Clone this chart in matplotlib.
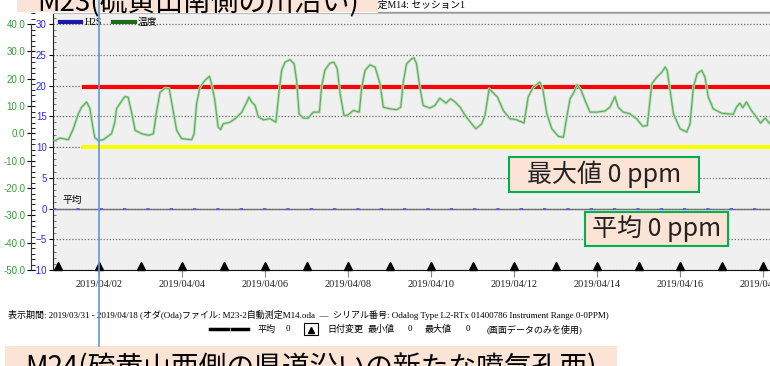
import matplotlib.pyplot as plt
from matplotlib.lines import Line2D
from matplotlib.patches import Rectangle
from matplotlib.ticker import MultipleLocator, FormatStrFormatter

# 経過日数 (2019/03/31 00:00 起点) と温度 [℃]
temp_days = [0.93, 1.05, 1.25, 1.37, 1.49, 1.57, 1.69, 1.77, 1.84, 1.89, 1.97,
             2.09, 2.29, 2.37, 2.41, 2.49, 2.61, 2.69, 2.78, 2.86, 3.02, 3.18,
             3.30, 3.38, 3.46, 3.58, 3.68, 3.76, 3.86, 3.98, 4.22, 4.28, 4.34,
             4.42, 4.54, 4.65, 4.70, 4.78, 4.86, 4.92, 4.98, 5.14, 5.27, 5.43,
             5.55, 5.60, 5.67, 5.75, 5.83, 5.95, 6.11, 6.25, 6.33, 6.39, 6.47,
             6.59, 6.69, 6.75, 6.81, 6.91, 7.03, 7.15, 7.30, 7.35, 7.43, 7.55,
             7.65, 7.73, 7.80, 7.89, 7.97, 8.12, 8.26, 8.32, 8.40, 8.52, 8.64,
             8.76, 8.84, 9.00, 9.16, 9.26, 9.32, 9.40, 9.52, 9.58, 9.64, 9.72,
             9.80, 9.96, 10.08, 10.20, 10.35, 10.46, 10.57, 10.69, 10.81, 10.97,
             11.07, 11.21, 11.29, 11.39, 11.47, 11.59, 11.73, 11.89, 12.05,
             12.23, 12.33, 12.45, 12.61, 12.68, 12.78, 12.90, 13.06, 13.18,
             13.26, 13.34, 13.42, 13.51, 13.60, 13.70, 13.82, 13.98, 14.18,
             14.30, 14.42, 14.50, 14.62, 14.78, 14.94, 15.09, 15.20, 15.31,
             15.43, 15.55, 15.63, 15.68, 15.75, 15.83, 15.99, 16.15, 16.23,
             16.31, 16.40, 16.51, 16.59, 16.67, 16.79, 16.99, 17.27, 17.35,
             17.43, 17.50, 17.59, 17.71, 17.83, 17.93, 18.04, 18.16, 18.30]
temp_c = [-2.6, -1.7, -2.3, 1.7, 7.2, 9.6, 11.5, 9.1, 2.3, -1.6, -2.6,
          -2.3, -0.1, 4.1, 9.0, 10.9, 13.5, 13.3, 7.2, 1.1, -0.1, -0.7,
          -0.1, 8.4, 15.1, 16.6, 16.4, 9.6, 1.1, -1.9, -2.3, -0.1, 10.9,
          16.9, 19.4, 20.9, 18.2, 12.1, 2.3, 1.4, 3.5, 4.1, 5.4, 7.8,
          11.5, 13.3, 11.5, 10.2, 6.0, 5.0, 5.4, 4.1, 15.7, 23.1, 26.1,
          27.0, 25.5, 19.4, 7.2, 5.6, 5.6, 7.8, 7.8, 16.9, 23.1, 25.7,
          26.1, 23.7, 14.5, 6.6, 6.6, 8.4, 7.8, 16.9, 23.1, 25.1, 24.3,
          18.2, 9.6, 9.0, 8.7, 9.6, 18.8, 25.5, 27.3, 27.7, 25.5, 16.9,
          10.2, 9.3, 10.2, 12.9, 11.1, 12.7, 11.5, 9.6, 6.6, 3.5,
          1.7, 3.5, 6.6, 16.4, 15.1, 13.3, 8.4, 5.4, 5.0,
          3.8, 13.3, 16.9, 18.8, 16.4, 7.2, 1.7, -1.1, -1.4,
          6.0, 12.7, 14.7, 17.8, 16.0, 12.1, 7.8, 7.8, 8.2,
          9.6, 13.5, 9.6, 7.8, 7.2, 5.4, 2.6, 2.9, 18.2,
          20.6, 22.4, 24.3, 23.1, 15.7, 7.2, 1.7, 0.5, 3.5,
          16.9, 21.8, 23.1, 20.6, 13.3, 9.0, 7.4, 7.0, 9.6,
          11.1, 9.4, 11.5, 8.4, 6.0, 3.8, 5.6, 3.5, 2.0]

# H2S [ppm]
h2s_mean = 0
h2s_max = 0
alarm_high = 19.8
alarm_low = 10
alarm_start = 1.58

day_change = list(range(1, 19))
tick_days = [2, 4, 6, 8, 10, 12, 14, 16, 18]
tick_labels = ['2019/04/02', '2019/04/04', '2019/04/06', '2019/04/08',
               '2019/04/10', '2019/04/12', '2019/04/14', '2019/04/16',
               '2019/04/18']
cursor_day = 2

W, H = 770, 366
PEACH = '#fbe4d5'
SERIF = ['Liberation Serif', 'Noto Sans CJK JP']
JP = ['Noto Sans CJK JP', 'DejaVu Sans']


def fx(x):
    return x / W


def fy(y):
    return 1 - y / H


fig = plt.figure(figsize=(W / 100, H / 100), dpi=100)
fig.patch.set_facecolor('white')

# 本体のグラフ (右端は画面外まで続く)
ax = fig.add_axes([fx(53), fy(270), (800 - 53) / W, (270 - 13) / H])
ax.set_facecolor('#f0f0f0')
ax.set_xlim(0.88, 0.88 + 747 / 41.5)
ax.set_ylim(-10, 31.79)

ax.yaxis.set_major_locator(MultipleLocator(5))
ax.yaxis.set_minor_locator(MultipleLocator(1))
ax.tick_params(axis='y', which='major', direction='out', length=3,
               labelsize=7, labelcolor='#2a2aff', pad=1.5)
ax.tick_params(axis='y', which='minor', direction='in', length=2,
               color='#666666')
for lab in ax.get_yticklabels():
    lab.set_family('Liberation Sans')
ax.grid(axis='y', which='major', ls=(0, (1, 1.5)), color='#707070', lw=0.9)

ax.set_xticks(tick_days)
ax.set_xticklabels(tick_labels, family=SERIF, fontsize=7.5, color='#222222')
ax.tick_params(axis='x', direction='out', length=5, color='#888888', pad=2)

ax.spines['right'].set_visible(False)
ax.spines['top'].set_color('#bbbbbb')
ax.spines['left'].set_color('#222222')
ax.spines['bottom'].set_color('#111111')

# 警報レベル
ax.hlines(alarm_high, alarm_start, 20, color='#ff0000', lw=3, zorder=3)
ax.hlines(alarm_low, alarm_start, 20, color='#ffff00', lw=3, zorder=3)

# H2S (平均線と測定値)
ax.axhline(h2s_mean, color='#707070', lw=1, zorder=3)
ax.axhline(h2s_max, color='#5050ff', lw=1.2, ls=(0, (2, 12)), zorder=3)
ax.text(1.1, h2s_mean + 0.6, '平均', family=SERIF, fontsize=7,
        va='bottom', ha='left')

# 日付変更マーカー
ax.plot(day_change, [-9.35] * len(day_change), '^', color='black',
        markersize=6, clip_on=False, zorder=4)

# 温度軸 (左外側)
ax_t = ax.twinx()
ax_t.set_ylim(-50, 44.09)
ax_t.yaxis.set_ticks_position('left')
ax_t.spines['left'].set_position(('outward', 16))
ax_t.spines['left'].set_bounds(-50, 40)
ax_t.spines['left'].set_color('#333333')
for side in ['right', 'top', 'bottom']:
    ax_t.spines[side].set_visible(False)
ax_t.yaxis.set_major_locator(MultipleLocator(10))
ax_t.yaxis.set_minor_locator(MultipleLocator(2))
ax_t.yaxis.set_major_formatter(FormatStrFormatter('%.1f'))
ax_t.set_yticks(range(-50, 41, 10))
ax_t.tick_params(axis='y', which='major', direction='inout', length=6,
                 labelsize=7, labelcolor='#3a9a3a', pad=1)
ax_t.tick_params(axis='y', which='minor', direction='in', length=3)
for lab in ax_t.get_yticklabels():
    lab.set_family('Liberation Sans')

ax_t.plot(temp_days, temp_c, color='#b3dcb3', lw=2.0, zorder=2)
ax_t.plot(temp_days, temp_c, color='#5cae5c', lw=0.8, zorder=2)

handles = [Line2D([], [], color='#1a1aa8', lw=3),
           Line2D([], [], color='#1a6a1a', lw=3)]
ax.legend(handles, ['H2S', '温度'], loc='upper left', bbox_to_anchor=(0.003, 1.0),
          ncol=2, frameon=False, handlelength=2.2, handletextpad=0.3,
          columnspacing=1.2, borderaxespad=0.1, prop={'family': SERIF, 'size': 7})

# 画面上部
fig.add_artist(Line2D([fx(378), fx(770)], [fy(12), fy(12)],
                      transform=fig.transFigure, color='#999999', lw=1))
fig.text(fx(368), fy(5), '設定M14: セッション1', family=SERIF, fontsize=7,
         va='center', ha='left', zorder=4)
fig.add_artist(Rectangle((fx(17), fy(12)), (378 - 17) / W, 12 / H,
                         transform=fig.transFigure, facecolor=PEACH,
                         edgecolor='none', zorder=5))
fig.text(fx(37), fy(11), 'M23(硫黄山南側の川沿い)', family=JP,
         fontsize=20, va='baseline', ha='left', zorder=6)

# 注記ボックス
for (x0, y0, x1, y1), label in [((509, 157, 699, 192), '最大値 0 ppm'),
                                ((585, 212, 728, 246), '平均 0 ppm')]:
    fig.add_artist(Rectangle((fx(x0), fy(y1)), (x1 - x0) / W, (y1 - y0) / H,
                             transform=fig.transFigure, facecolor=PEACH,
                             edgecolor='#00b050', lw=1.5, zorder=7))
    fig.text(fx((x0 + x1) / 2), fy((y0 + y1) / 2), label, family=JP,
             fontsize=18, ha='center', va='center', color='#222222', zorder=8)

# フッター
fig.text(fx(8), fy(315),
         '表示期間: 2019/03/31 - 2019/04/18 (オダ(Oda)ファイル: M23-2自動測定M14.oda'
         '  —  シリアル番号: Odalog Type L2-RTx 01400786 Instrument Range 0-0PPM)',
         family=SERIF, fontsize=6.5, va='center', ha='left')
fig.add_artist(Line2D([fx(210), fx(228)], [fy(329)] * 2,
                      transform=fig.transFigure, color='black', lw=2.5))
fig.add_artist(Line2D([fx(232), fx(248)], [fy(329)] * 2,
                      transform=fig.transFigure, color='black', lw=2.5))
fig.add_artist(Rectangle((fx(304), fy(335)), 14 / W, 12 / H,
                         transform=fig.transFigure, facecolor='white',
                         edgecolor='black', lw=0.8))
fig.add_artist(Line2D([fx(311)], [fy(330)], transform=fig.transFigure,
                      marker='^', color='black', markersize=5))
for x, s in [(257, '平均'), (286, '0'), (327, '日付変更'), (368, '最小値'),
             (408, '0'), (425, '最大値'), (466, '0'), (487, '(画面データのみを使用)')]:
    fig.text(fx(x), fy(329), s, family=SERIF, fontsize=6.5, va='center', ha='left')

# 画面下部
fig.add_artist(Rectangle((fx(5), 0), (617 - 5) / W, 20 / H,
                         transform=fig.transFigure, facecolor=PEACH,
                         edgecolor='none', zorder=5))
fig.text(fx(25), fy(376), 'M24(硫黄山西側の県道沿いの新たな噴気孔西)', family=JP,
         fontsize=20, va='baseline', ha='left', zorder=6)

# カーソル
fig.add_artist(Line2D([fx(99.5)] * 2, [fy(0), fy(346)], transform=fig.transFigure,
                      color='#5b9bd5', lw=1.2, zorder=10))

fig.savefig('out.png', dpi=100)
